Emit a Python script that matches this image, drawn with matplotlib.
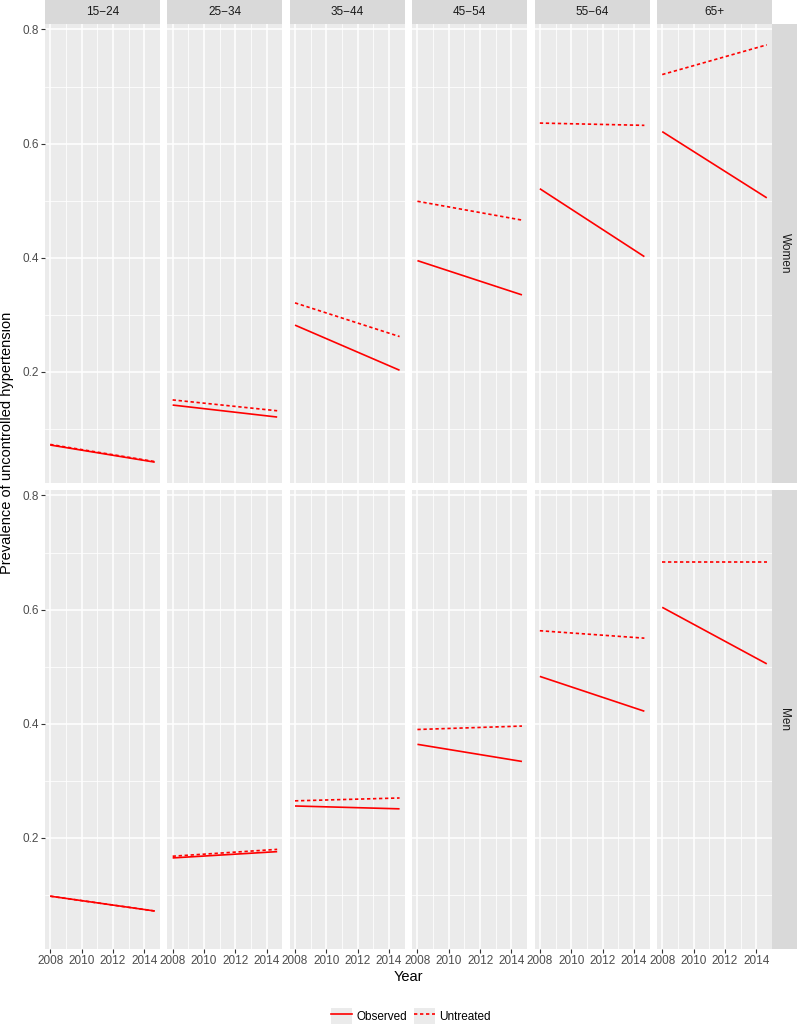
import matplotlib
matplotlib.use("Agg")
import matplotlib.pyplot as plt
from matplotlib.lines import Line2D
from matplotlib.patches import Rectangle
from matplotlib.legend_handler import HandlerLine2D

plt.rcParams['font.family'] = ['Liberation Sans', 'DejaVu Sans']

# data (start = 2008, end = late 2014)
age_groups = ['15\u221224', '25\u221234', '35\u221244', '45\u221254', '55\u221264', '65+']
sexes = ['Women', 'Men']
years = [2008, 2014.67]

women_obs_start = [0.072, 0.142, 0.282, 0.395, 0.521, 0.621]
women_obs_end = [0.042, 0.121, 0.203, 0.335, 0.402, 0.505]
women_unt_start = [0.073, 0.151, 0.321, 0.499, 0.636, 0.721]
women_unt_end = [0.043, 0.132, 0.262, 0.466, 0.632, 0.773]

men_obs_start = [0.098, 0.165, 0.256, 0.364, 0.483, 0.604]
men_obs_end = [0.072, 0.176, 0.251, 0.334, 0.422, 0.505]
men_unt_start = [0.098, 0.168, 0.265, 0.390, 0.563, 0.684]
men_unt_end = [0.072, 0.180, 0.270, 0.396, 0.550, 0.684]

series = {
    'Women': [(women_obs_start, women_obs_end), (women_unt_start, women_unt_end)],
    'Men': [(men_obs_start, men_obs_end), (men_unt_start, men_unt_end)],
}

W, H = 797, 1027
RED = 'red'
DASH = (2.0, 1.6)


def box(x0, y0, x1, y1):
    return [x0 / W, 1 - y1 / H, (x1 - x0) / W, (y1 - y0) / H]


class KeyHandler(HandlerLine2D):
    # ggplot-like legend key: grey square behind the line
    def create_artists(self, legend, orig_handle, xdescent, ydescent,
                       width, height, fontsize, trans):
        bg = Rectangle((-xdescent, -ydescent), width, height,
                       facecolor='#EBEBEB', edgecolor='none', transform=trans)
        arts = super().create_artists(legend, orig_handle, xdescent, ydescent,
                                      width, height, fontsize, trans)
        return [bg] + list(arts)


fig = plt.figure(figsize=(W / 100, H / 100), dpi=100)

# ggplot-style 5% expansion of the data range
all_vals = [v for s in series.values() for pair in s for lst in pair for v in lst]
ymin, ymax = min(all_vals), max(all_vals)
yr = ymax - ymin
ylim = (ymin - 0.05 * yr, ymax + 0.05 * yr)
xr = years[1] - years[0]
xlim = (years[0] - 0.05 * xr, years[1] + 0.05 * xr)

rows = [(24, 483), (490, 949)]
col_w, col_step, col_x0 = 115, 122.4, 45

for r, sex in enumerate(sexes):
    y0, y1 = rows[r]
    obs, unt = series[sex]
    for c, age in enumerate(age_groups):
        x0 = col_x0 + c * col_step
        ax = fig.add_axes(box(x0, y0, x0 + col_w, y1))
        ax.set_facecolor('#EBEBEB')
        for sp in ax.spines.values():
            sp.set_visible(False)
        ax.plot(years, [obs[0][c], obs[1][c]], color=RED, lw=1.2,
                solid_capstyle='butt')
        ax.plot(years, [unt[0][c], unt[1][c]], color=RED, lw=1.2,
                dashes=DASH, dash_capstyle='butt')
        ax.set_xlim(xlim)
        ax.set_ylim(ylim)
        ax.set_xticks([2008, 2010, 2012, 2014])
        ax.set_xticks([2009, 2011, 2013, 2015], minor=True)
        ax.set_yticks([0.2, 0.4, 0.6, 0.8])
        ax.set_yticklabels(['0.2', '0.4', '0.6', '0.8'])
        ax.set_yticks([0.1, 0.3, 0.5, 0.7], minor=True)
        ax.set_axisbelow(True)
        ax.grid(which='major', color='white', lw=1.1)
        ax.grid(which='minor', color='white', lw=0.55)
        ax.tick_params(which='minor', length=0)
        ax.tick_params(which='major', length=2.75, width=0.8, color='#333333',
                       labelsize=8.5, labelcolor='#4D4D4D', pad=1.6)
        if c > 0:
            ax.tick_params(axis='y', left=False, labelleft=False)
        if r < len(sexes) - 1:
            ax.tick_params(axis='x', bottom=False, labelbottom=False)

        # column strips on top
        if r == 0:
            sax = fig.add_axes(box(x0, 0, x0 + col_w, 24))
            sax.set_facecolor('#D9D9D9')
            sax.set_xticks([])
            sax.set_yticks([])
            for sp in sax.spines.values():
                sp.set_visible(False)
            sax.text(0.5, 0.5, age, ha='center', va='center', fontsize=8.5,
                     color='#1A1A1A', transform=sax.transAxes)

    # row strip on the right
    rax = fig.add_axes(box(772, y0, 797, y1))
    rax.set_facecolor('#D9D9D9')
    rax.set_xticks([])
    rax.set_yticks([])
    for sp in rax.spines.values():
        sp.set_visible(False)
    rax.text(0.5, 0.5, sex, ha='center', va='center', rotation=-90,
             fontsize=8.5, color='#1A1A1A', transform=rax.transAxes)

fig.text(408.5 / W, 1 - 977 / H, 'Year', ha='center', va='center', fontsize=10.5)
fig.text(7 / W, 1 - 443 / H, 'Prevalence of uncontrolled hypertension',
         rotation=90, ha='center', va='center', fontsize=10.5)

handles = [Line2D([], [], color=RED, lw=1.2, label='Observed'),
           Line2D([], [], color=RED, lw=1.2, dashes=DASH, label='Untreated')]
fig.legend(handles=handles, loc='center', bbox_to_anchor=(411 / W, 1 - 1016 / H),
           ncol=2, frameon=False, fontsize=8.5, handlelength=1.75,
           handleheight=1.75, handletextpad=0.4, columnspacing=0.6,
           borderaxespad=0, borderpad=0,
           handler_map={Line2D: KeyHandler(marker_pad=0.05)})

fig.savefig('out.png', dpi=100)
